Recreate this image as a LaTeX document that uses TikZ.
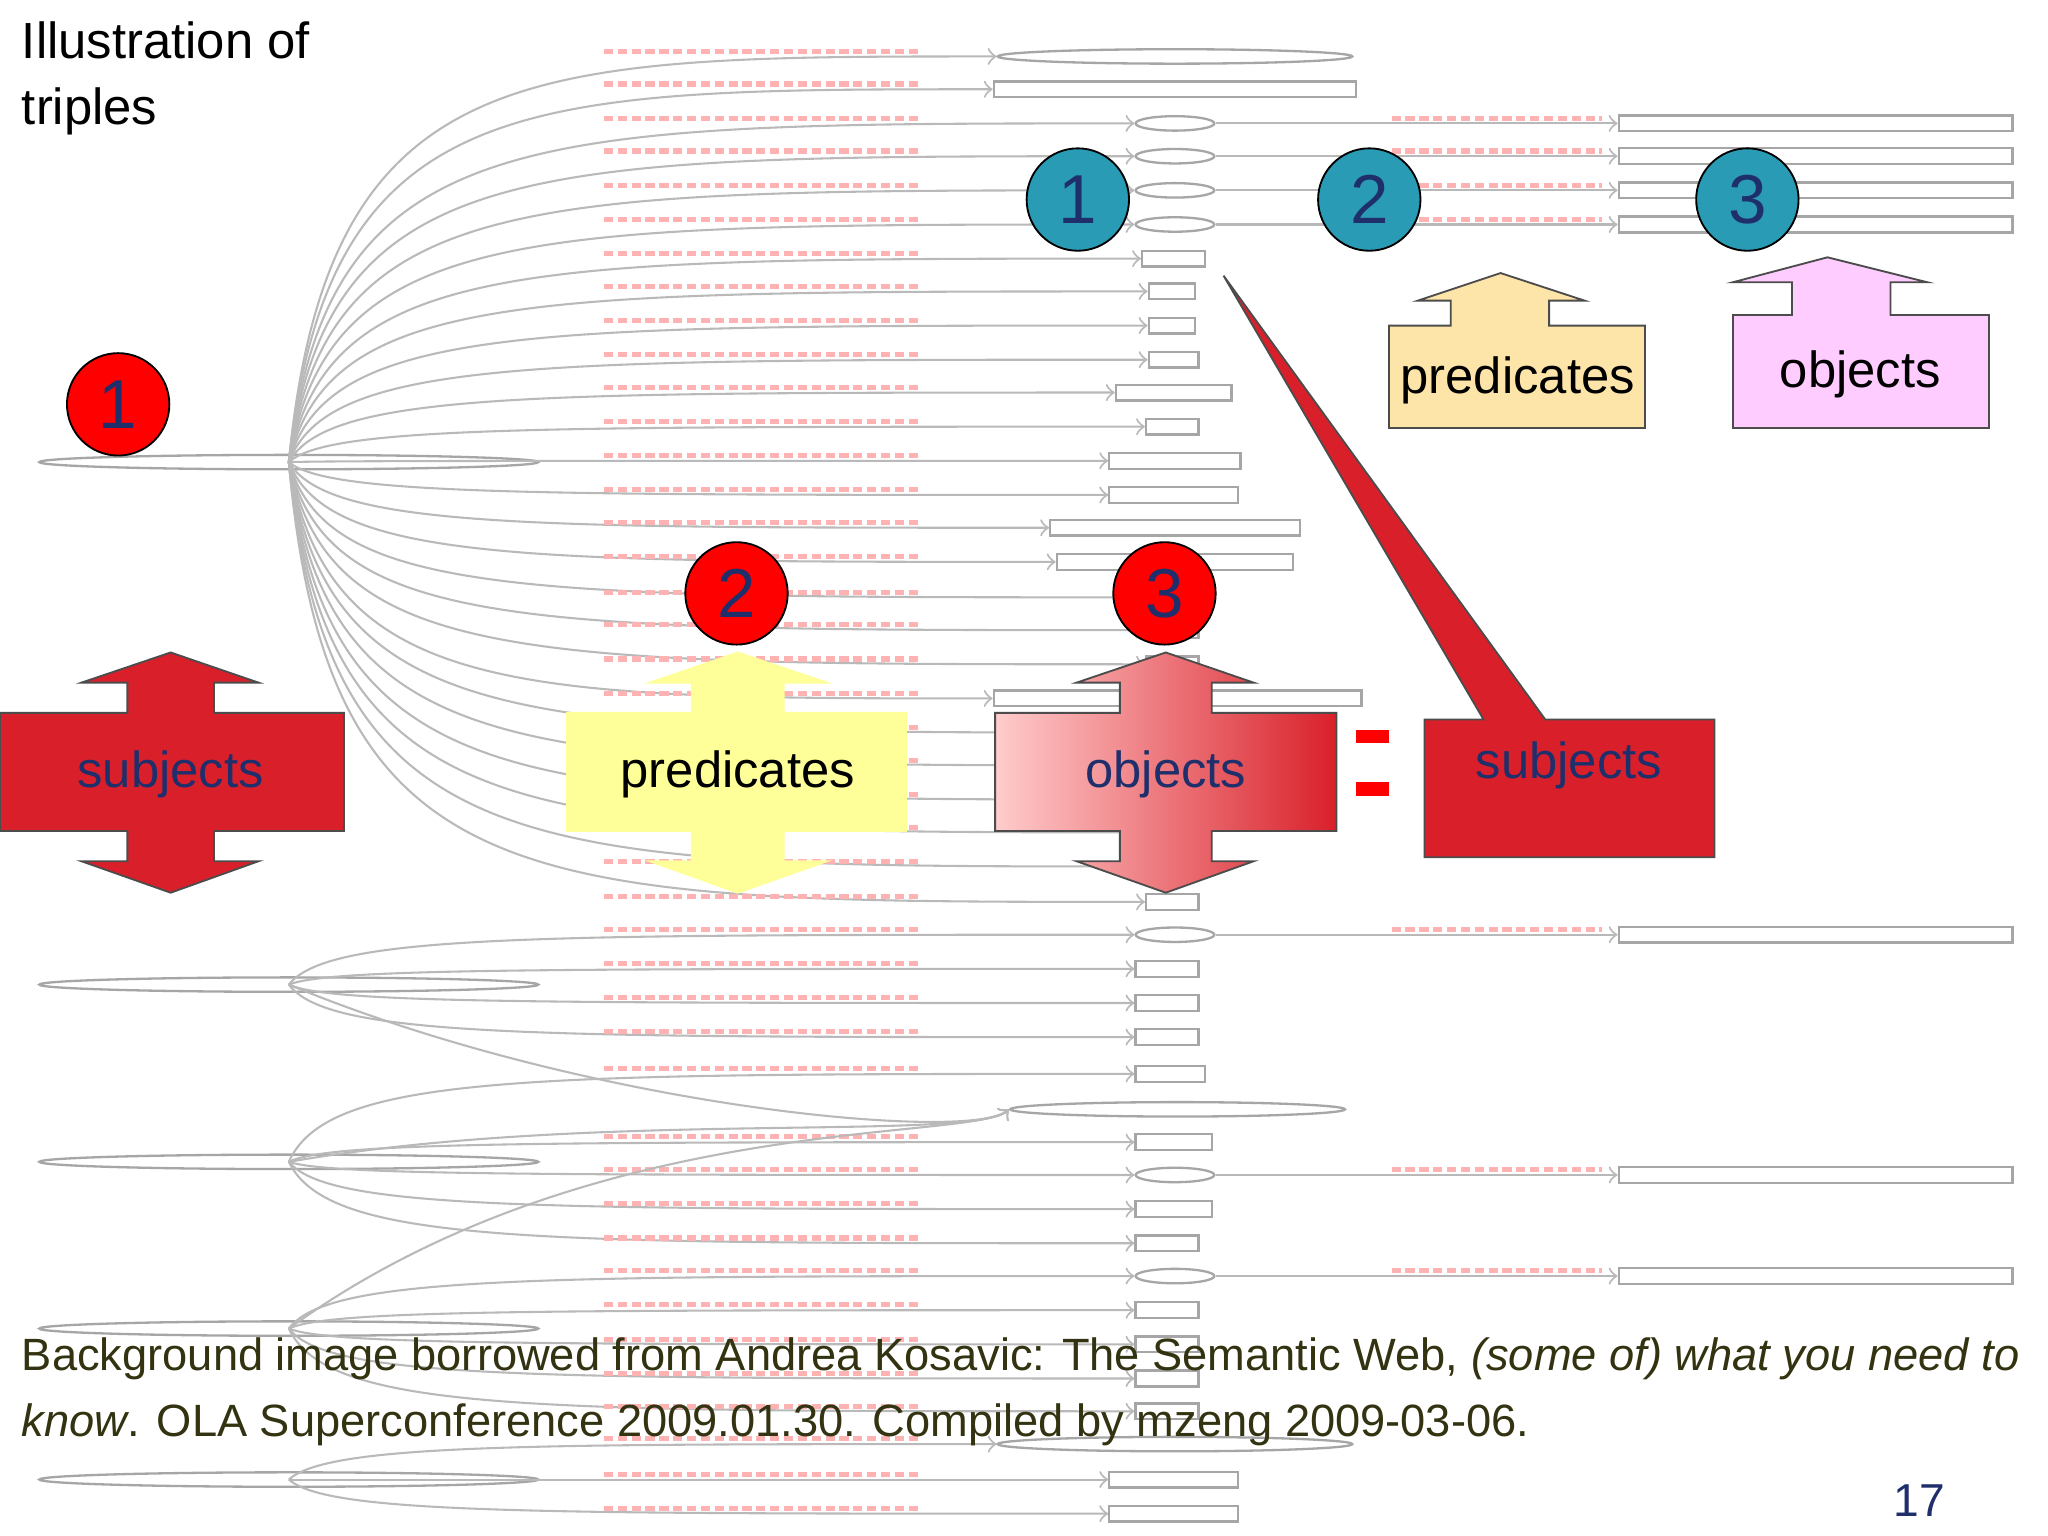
\documentclass[tikz,border=0pt]{standalone}
\usepackage{fontspec}
\setmainfont{Liberation Sans}
\usetikzlibrary{shapes.geometric}
\definecolor{rd}{HTML}{D9202A}
\definecolor{dblue}{HTML}{1F2F6B}
\definecolor{teal}{HTML}{2A9BB5}
\definecolor{tan}{HTML}{FDE4A9}
\definecolor{pinkk}{HTML}{FFCCFF}
\definecolor{yel}{HTML}{FFFF99}
\definecolor{olive}{HTML}{333311}
\tikzset{
 edge/.style={gray!55,line width=0.45pt},
 lbl/.style={red!30,line width=1.1pt,dash pattern=on 2pt off 1pt},
 gbox/.style={draw=gray!70,line width=0.5pt,minimum height=12*0.01cm,inner sep=0,fill=white},
 gell/.style={ellipse,draw=gray!70,line width=0.5pt,minimum height=11*0.01cm,inner sep=0,fill=white},
 rcirc/.style={circle,draw=black,fill=red,minimum size=78*0.01cm,inner sep=0,text=dblue,font=\fontsize{15}{15}\selectfont},
 tcirc/.style={circle,draw=black,fill=teal,minimum size=78*0.01cm,inner sep=0,text=dblue,font=\fontsize{15}{15}\selectfont},
 big/.style={font=\fontsize{11}{11}\selectfont},
}
\begin{document}
\begin{tikzpicture}[x=0.01cm,y=-0.01cm]
\useasboundingbox (0,0) rectangle (1560,1170);
\fill[white] (0,0) rectangle (1560,1170);
% ---------- background graph ----------
\foreach \y [count=\i] in {352,750,885,1012,1127}{
  \node[gell,minimum width=380*0.01cm] (s\i) at (220,\y) {};
  \coordinate (o\i) at (220,\y);
}
\foreach \y/\a/\b [count=\i] in {43/760/1030,94/865/925,119/865/925,145/865/925,171/865/925}{
  \node[gell,minimum width={(\b-\a)*0.01cm}] (f\i) at ({(\a+\b)/2},\y) {};
  \draw[edge,->] (o1) .. controls (250,\y) and (400,\y) .. (f\i.west);
  \draw[lbl] (460,\y-4) -- (700,\y-4);
}
\foreach \y/\a/\b [count=\i] in {68/757/1033,197/870/918,222/875/910,248/875/910,274/875/913,299/850/938,325/873/913,351/845/945,377/845/943,402/800/990,428/805/985,455/873/913,480/873/913,506/873/913,532/757/1037,558/873/913,583/873/913,609/873/913,634/873/913,660/873/913,687/873/913}{
  \node[gbox,minimum width={(\b-\a)*0.01cm}] (g\i) at ({(\a+\b)/2},\y) {};
  \draw[edge,->] (o1) .. controls (250,\y) and (400,\y) .. (g\i.west);
  \draw[lbl] (460,\y-4) -- (700,\y-4);
}
% right chain
\foreach \y [count=\i] in {94,119,145,171}{
  \node[gbox,minimum width=300*0.01cm] (r\i) at (1383,\y) {};
  \draw[edge,->] (f\the\numexpr\i+1\relax) -- (r\i);
  \draw[lbl] (1060,\y-4) -- (1220,\y-4);
}
% lower groups
\node[gell,minimum width=255*0.01cm] (e845) at (897,845) {};
\foreach \y/\a/\b/\s [count=\i] in {712/865/925/o2,895/865/925/o3,972/865/925/o4,1100/760/1030/o5}{
  \node[gell,minimum width={(\b-\a)*0.01cm}] (h\i) at ({(\a+\b)/2},\y) {};
  \draw[edge,->] (\s) .. controls (250,\y) and (400,\y) .. (h\i.west);
  \draw[lbl] (460,\y-4) -- (700,\y-4);
}
\foreach \y [count=\i] in {712,895,972}{
  \node[gbox,minimum width=300*0.01cm] (q\i) at (1383,\y) {};
  \draw[edge,->] (h\i) -- (q\i);
  \draw[lbl] (1060,\y-4) -- (1220,\y-4);
}
\foreach \y/\a/\b/\s [count=\i] in {738/865/913/o2,764/865/913/o2,790/865/913/o2,818/865/918/o3,870/865/923/o3,921/865/923/o3,947/865/913/o3,998/865/913/o4,1024/865/913/o4,1050/865/913/o4,1075/865/913/o4,1127/845/943/o5,1153/845/943/o5}{
  \node[gbox,minimum width={(\b-\a)*0.01cm}] (k\i) at ({(\a+\b)/2},\y) {};
  \draw[edge,->] (\s) .. controls (250,\y) and (400,\y) .. (k\i.west);
  \draw[lbl] (460,\y-4) -- (700,\y-4);
}
\foreach \s in {o2,o3,o4}{
  \draw[edge,->] (\s) .. controls (450,845) and (740,870) .. (e845.west);
}
% ---------- title ----------
\node[anchor=north west,align=left,font=\fontsize{11}{14.2}\selectfont,inner sep=0] (title) at (16,16) {Illustration of\\triples};
% ---------- circles ----------
\node[rcirc] (c1) at (90,308) {1};
\node[rcirc] (c2) at (561,452) {2};
\node[rcirc] (c3) at (887,452) {3};
\node[tcirc] (t1) at (821,152) {1};
\node[tcirc] (t2) at (1043,152) {2};
\node[tcirc] (t3) at (1331,152) {3};
% ---------- double arrows ----------
\draw[fill=rd,draw=black!70] (0,543) -- (97,543) -- (97,520) -- (62,520) -- (130,497) -- (197,520) -- (163,520) -- (163,543) -- (262,543) -- (262,633) -- (163,633) -- (163,656) -- (197,656) -- (130,680) -- (62,656) -- (97,656) -- (97,633) -- (0,633) -- cycle;
\node[big,text=dblue] (subj) at (130,590) {subjects};
\draw[fill=yel,draw=yel] (432,543) -- (527,543) -- (527,520) -- (495,520) -- (562,497) -- (630,520) -- (597,520) -- (597,543) -- (690,543) -- (690,633) -- (597,633) -- (597,656) -- (630,656) -- (562,680) -- (495,656) -- (527,656) -- (527,633) -- (432,633) -- cycle;
\node[big] (pred) at (562,590) {predicates};
\draw[left color=red!20,right color=rd,draw=black!70] (758,543) -- (853,543) -- (853,520) -- (820,520) -- (888,497) -- (955,520) -- (923,520) -- (923,543) -- (1018,543) -- (1018,633) -- (923,633) -- (923,656) -- (955,656) -- (888,680) -- (820,656) -- (853,656) -- (853,633) -- (758,633) -- cycle;
\node[big,text=dblue] (obj) at (888,590) {objects};
% equals
\fill[red] (1033,556) rectangle (1058,566);
\fill[red] (1033,596) rectangle (1058,606);
% callout subjects
\draw[fill=rd,draw=black!70] (1085,548) -- (1130,548) -- (932,210) -- (1177,548) -- (1306,548) -- (1306,653) -- (1085,653) -- cycle;
\node[big,text=dblue] (subj2) at (1195,583) {subjects};
% predicates / objects up arrows
\draw[fill=tan,draw=black!70] (1058,248) -- (1105,248) -- (1105,229) -- (1080,229) -- (1143,208) -- (1207,229) -- (1180,229) -- (1180,248) -- (1253,248) -- (1253,326) -- (1058,326) -- cycle;
\node[big] (pred2) at (1156,290) {predicates};
\draw[fill=pinkk,draw=black!70] (1320,240) -- (1365,240) -- (1365,215) -- (1320,215) -- (1392,196) -- (1468,215) -- (1440,215) -- (1440,240) -- (1515,240) -- (1515,326) -- (1320,326) -- cycle;
\node[big] (obj2) at (1417,285) {objects};
% caption
\node[anchor=west,inner sep=0,text=olive,font=\fontsize{9.8}{9.8}\selectfont] (cap1) at (16,1035) {Background image borrowed from Andrea Kosavic: The Semantic Web, \textit{(some of) what you need to}};
\node[anchor=west,inner sep=0,text=olive,font=\fontsize{9.8}{9.8}\selectfont] (cap2) at (16,1085) {\textit{know}. OLA Superconference 2009.01.30. Compiled by mzeng 2009-03-06.};
\node[text=dblue,font=\fontsize{10}{10}\selectfont] (pg) at (1462,1143) {17};
\end{tikzpicture}
\end{document}
